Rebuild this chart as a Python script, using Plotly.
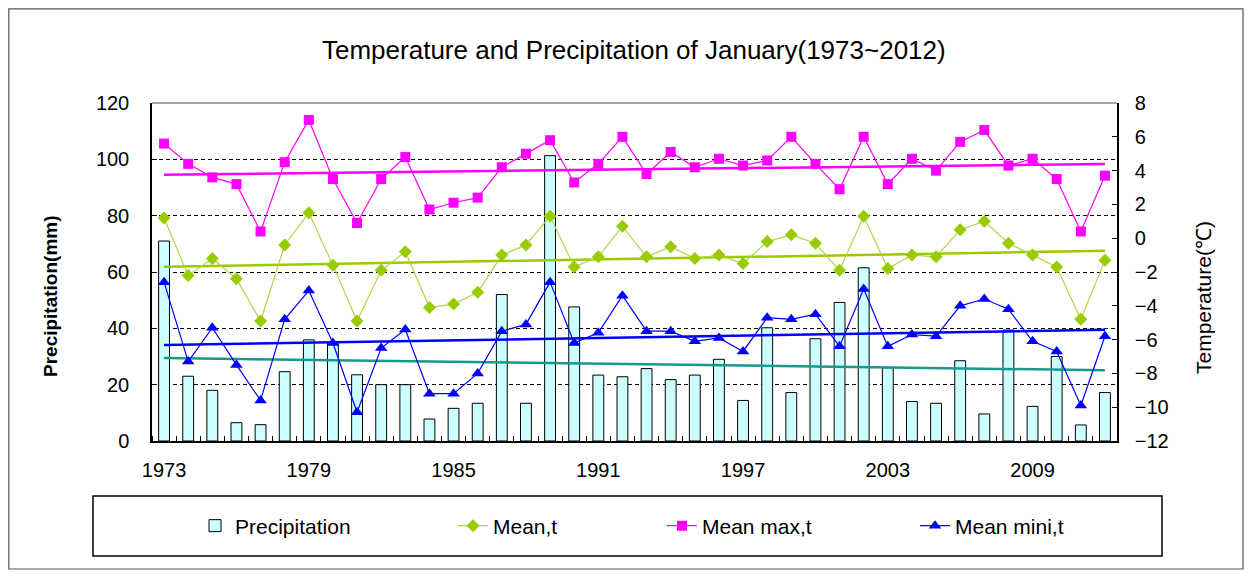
import numpy as np
import plotly.graph_objects as go

years = list(range(1973, 2013))
precip = [71, 23, 18, 6.5, 5.8, 24.6, 35.9, 35, 23.5, 20,
          20, 7.8, 11.6, 13.4, 52, 13.4, 101.3, 47.6, 23.4, 22.8,
          25.7, 21.8, 23.4, 29, 14.4, 40.2, 17.2, 36.3, 49.2, 61.5,
          26, 14, 13.4, 28.5, 9.6, 39.4, 12.3, 30, 5.7, 17.2]
mean_t = [1.2, -2.2, -1.2, -2.4, -4.9, -0.4, 1.5, -1.6, -4.9, -1.9,
          -0.8, -4.1, -3.9, -3.2, -1.0, -0.4, 1.3, -1.7, -1.1, 0.7,
          -1.1, -0.5, -1.2, -1.0, -1.5, -0.2, 0.2, -0.3, -1.9, 1.3,
          -1.8, -1.0, -1.1, 0.5, 1.0, -0.3, -1.0, -1.7, -4.8, -1.3]
max_t = [5.6, 4.4, 3.6, 3.2, 0.4, 4.5, 7.0, 3.5, 0.9, 3.5,
         4.8, 1.7, 2.1, 2.4, 4.2, 5.0, 5.8, 3.3, 4.4, 6.0,
         3.8, 5.1, 4.2, 4.7, 4.3, 4.6, 6.0, 4.4, 2.9, 6.0,
         3.2, 4.7, 4.0, 5.7, 6.4, 4.3, 4.7, 3.5, 0.4, 3.7]
min_t = [-2.6, -7.3, -5.3, -7.5, -9.6, -4.8, -3.1, -6.2, -10.3, -6.5,
         -5.4, -9.2, -9.2, -8.0, -5.5, -5.1, -2.6, -6.2, -5.6, -3.4,
         -5.5, -5.5, -6.1, -5.9, -6.7, -4.7, -4.8, -4.5, -6.4, -3.0,
         -6.4, -5.7, -5.8, -4.0, -3.6, -4.2, -6.1, -6.7, -9.9, -5.8]

title_text = "Temperature and Precipitation of January(1973~2012)"
y1_title = "Precipitation(mm)"
y2_title = "Temperature(℃)"

C_BAR = "#CCFFFF"
C_MEAN = "#99CC00"
C_MEANL = "#B5D34A"
C_MAX = "#FF00FF"
C_MIN = "#0000FF"
C_PTREND = "#17998C"

x = np.array(years, dtype=float)


def trend(vals):
    k, b = np.polyfit(x, np.array(vals, dtype=float), 1)
    return list(k * x + b)


fig = go.Figure()
fig.add_trace(go.Bar(x=years, y=precip, name="Precipitation", width=0.45,
                     marker=dict(color=C_BAR, line=dict(color="black", width=1)),
                     legend="legend"))
# trend lines
fig.add_trace(go.Scatter(x=years, y=trend(precip), mode="lines", showlegend=False,
                         line=dict(color=C_PTREND, width=2.5)))
fig.add_trace(go.Scatter(x=years, y=trend(max_t), mode="lines", showlegend=False,
                         yaxis="y2", line=dict(color=C_MAX, width=2.5)))
fig.add_trace(go.Scatter(x=years, y=trend(mean_t), mode="lines", showlegend=False,
                         yaxis="y2", line=dict(color=C_MEAN, width=2.5)))
fig.add_trace(go.Scatter(x=years, y=trend(min_t), mode="lines", showlegend=False,
                         yaxis="y2", line=dict(color=C_MIN, width=2.5)))
# series
fig.add_trace(go.Scatter(x=years, y=mean_t, name="Mean,t", mode="lines+markers", yaxis="y2",
                         line=dict(color=C_MEANL, width=1.2),
                         marker=dict(symbol="diamond", size=10, color=C_MEAN),
                         legend="legend2"))
fig.add_trace(go.Scatter(x=years, y=max_t, name="Mean max,t", mode="lines+markers", yaxis="y2",
                         line=dict(color=C_MAX, width=1.2),
                         marker=dict(symbol="square", size=10, color=C_MAX),
                         legend="legend3"))
fig.add_trace(go.Scatter(x=years, y=min_t, name="Mean mini,t", mode="lines+markers", yaxis="y2",
                         line=dict(color=C_MIN, width=1.2),
                         marker=dict(symbol="triangle-up", size=11, color=C_MIN),
                         legend="legend4"))

# page coordinates (the page body has an 8px margin)
OFF = 8
L, R, T, B = 152, 1117, 103, 441
W, H = 1252, 577
pw, ph = R - L, B - T


def px(v):
    return (v - L) / pw


def py(v):
    return (B - v) / ph


tick_font = dict(family="Liberation Sans, Arial, sans-serif", size=20, color="black")
leg_font = dict(family="Liberation Sans, Arial, sans-serif", size=21, color="black")

legend_common = dict(orientation="h", yanchor="middle", y=py(526), xanchor="left",
                     bgcolor="rgba(0,0,0,0)", borderwidth=0, font=leg_font)
text_starts = [237, 495, 704, 957]
legs = {}
for i, key in enumerate(["legend", "legend2", "legend3", "legend4"]):
    d = dict(legend_common)
    d["x"] = px(text_starts[i] - 42)
    legs[key] = d

fig.update_layout(
    width=W - OFF, height=H - OFF,
    margin=dict(l=L - OFF, r=W - R, t=T - OFF, b=H - B, autoexpand=False),
    paper_bgcolor="white", plot_bgcolor="white",
    font=tick_font,
    xaxis=dict(range=[1972.5, 2012.5], tickmode="linear", tick0=1973, dtick=6,
               ticks="", showgrid=False, showline=True, linecolor="black", linewidth=1.5,
               tickfont=tick_font, zeroline=False, ticklabelstandoff=10,
               minor=dict(ticks="inside", tick0=1972.5, dtick=1, ticklen=5,
                          tickcolor="black", showgrid=False)),
    yaxis=dict(range=[0, 120], dtick=20, showline=True, linecolor="black", linewidth=1.5,
               ticks="inside", ticklen=5, tickcolor="black", ticklabelstandoff=17,
               showgrid=True, gridcolor="black", griddash="4px,3px", gridwidth=1,
               zeroline=False, tickfont=tick_font),
    yaxis2=dict(range=[-12, 8], dtick=2, overlaying="y", side="right", showline=True,
                linecolor="black", linewidth=1.5, ticks="inside", ticklen=5,
                tickcolor="black", showgrid=False, zeroline=False, tickfont=tick_font,
                ticklabelstandoff=12),
    showlegend=True,
    **legs,
)

fig.add_annotation(text=title_text, xref="paper", yref="paper", x=px(634), y=py(50),
                   xanchor="center", yanchor="middle", showarrow=False,
                   font=dict(family="Liberation Sans, Arial, sans-serif", size=26, color="black"))
fig.add_annotation(text=y1_title, xref="paper", yref="paper", x=px(50), y=py(296),
                   xanchor="center", yanchor="middle", showarrow=False, textangle=-90,
                   font=dict(family="Liberation Sans, Arial, sans-serif", size=19, color="black", weight="bold"))
fig.add_annotation(text=y2_title, xref="paper", yref="paper", x=px(1203), y=py(298),
                   xanchor="center", yanchor="middle", showarrow=False, textangle=-90,
                   font=dict(family="Liberation Sans, Arial, sans-serif", size=21, color="black"))

# top border of plot area
fig.add_shape(type="line", xref="paper", yref="paper", x0=0, x1=1, y0=1, y1=1,
              line=dict(color="#888888", width=1.5))
# legend box
fig.add_shape(type="rect", xref="paper", yref="paper", x0=px(93), x1=px(1162),
              y0=py(556), y1=py(496), line=dict(color="black", width=1.5))
# outer chart border
fig.add_shape(type="rect", xref="paper", yref="paper", x0=px(8.8), x1=px(1243),
              y0=py(569), y1=py(8.8), line=dict(color="#555555", width=1.2))

fig.write_html("out.html")
